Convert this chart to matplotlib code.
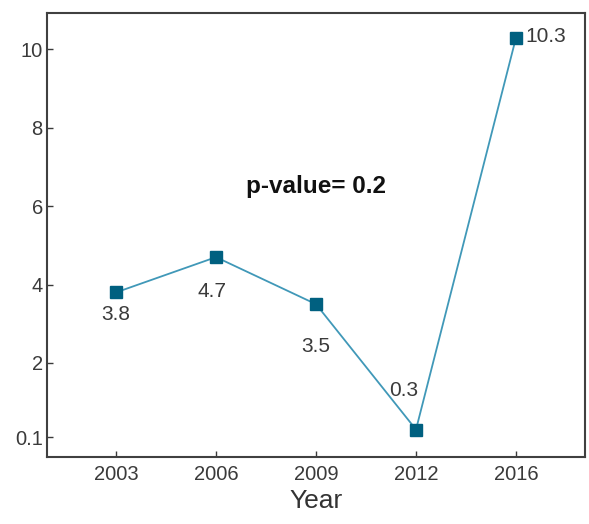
import matplotlib
matplotlib.use("Agg")
import matplotlib.pyplot as plt

years = ["2003", "2006", "2009", "2012", "2016"]
values = [3.8, 4.7, 3.5, 0.3, 10.3]
labels = ["3.8", "4.7", "3.5", "0.3", "10.3"]
yticks = [0.1, 2, 4, 6, 8, 10]
ytick_labels = ["0.1", "2", "4", "6", "8", "10"]

plt.rcParams['font.family'] = ['Liberation Sans', 'DejaVu Sans']

fig = plt.figure(figsize=(5.89, 5.24), dpi=100)
ax = fig.add_axes([47/589, 1-457/524, (585-47)/589, (457-13)/524])

x = list(range(len(years)))
ax.plot(x, values, color="#4098b8", linewidth=1.3, marker="s", markersize=8.5,
        markerfacecolor="#006080", markeredgecolor="#006080", zorder=3)

offsets = [(0, -22, 'center', 'center'), (-4, -34, 'center', 'center'),
           (0, -42, 'center', 'center'), (-12, 39, 'center', 'center'),
           (9, 1, 'left', 'center')]
for xi, v, lab, (dx, dy, ha, va) in zip(x, values, labels, offsets):
    ax.annotate(lab, (xi, v), xytext=(dx, dy), textcoords='offset pixels',
                ha=ha, va=va, fontsize=15, color="#3a3a3a")

ax.text(2.0, 6.5, "p-value= 0.2", ha='center', va='center', fontsize=17.5,
        fontweight='bold', color='#111111')

ax.set_xlim(-0.69, 4.69)
ax.set_ylim(-0.4, 10.93)
ax.set_xticks(x)
ax.set_xticklabels(years)
ax.set_yticks(yticks)
ax.set_yticklabels(ytick_labels)
ax.tick_params(axis='both', direction='in', labelsize=14.5, colors='#3a3a3a',
               length=4.5, width=1.0)
ax.tick_params(axis='x', pad=6)
ax.tick_params(axis='y', pad=3)
for side in ['top', 'right', 'left', 'bottom']:
    ax.spines[side].set_color('#404040')
    ax.spines[side].set_linewidth(1.5)

ax.set_xlabel("Year", fontsize=19, color='#333333', labelpad=3)

fig.savefig("out.png", dpi=100)
